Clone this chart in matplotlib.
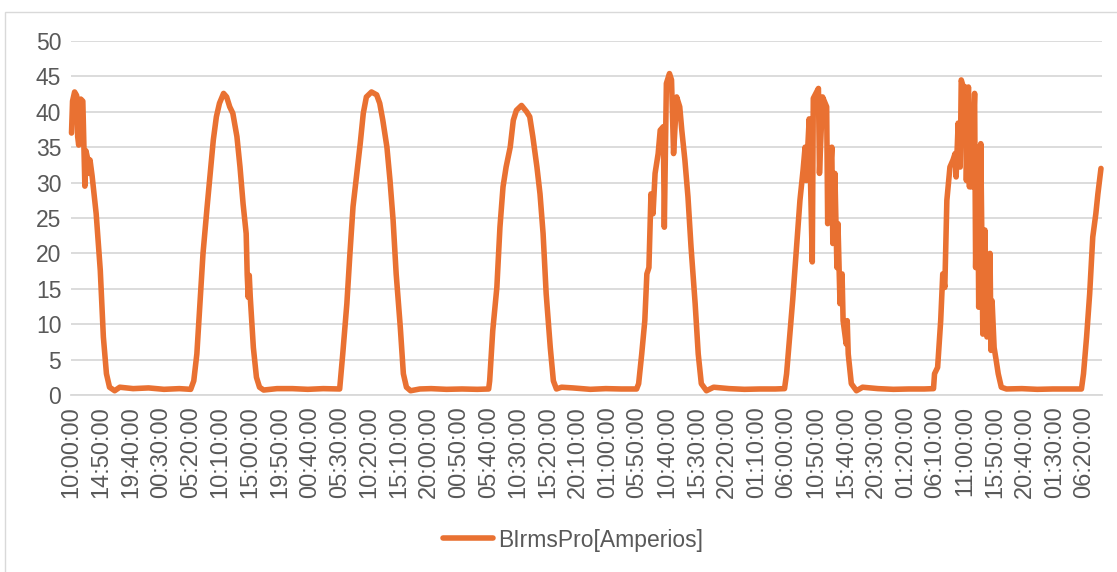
import matplotlib.pyplot as plt
from matplotlib.patches import Rectangle

plt.rcParams['font.family'] = ['Liberation Sans', 'DejaVu Sans']

# 10-minute sample index (0 = 10:00:00 on day 1) and current in A
sample = [
    # day 1
    0, 1, 3, 5, 6, 7, 9, 11, 12, 13, 14, 16, 17, 18, 20, 24, 28, 31, 34, 37, 42, 47,
    60, 75, 90, 105,
    # day 2
    116, 119, 122, 125, 128, 132, 135, 138, 141, 144, 148, 151, 154, 157, 161, 164,
    167, 170, 171, 172, 173, 174, 177, 180, 183, 187,
    200, 215, 230, 245,
    # day 3
    261, 264, 268, 271, 274, 278, 281, 284, 287, 292, 297, 300, 303, 307, 310, 313,
    316, 320, 323, 326, 330, 339,
    350, 365, 380, 395,
    # day 4
    406, 407, 410, 414, 417, 420, 423, 427, 430, 433, 438, 443, 446, 449, 453, 456,
    459, 462, 466, 469, 472, 477, 488,
    505, 520, 535,
    # day 5
    550, 552, 555, 558, 560, 562, 564, 566, 568, 571, 573, 576, 577, 579, 582, 584,
    586, 589, 592, 594, 597, 600, 603, 607, 610, 613, 618, 625,
    640, 655, 670, 685,
    # day 6
    694, 696, 699, 702, 706, 709, 712, 714, 715, 718, 721, 722, 727, 728, 731, 735,
    736, 740, 741, 743, 745, 746, 748, 750, 751, 754, 755, 756, 759, 764, 770,
    785, 800, 815, 830,
    # day 7
    839, 840, 843, 846, 848, 850, 852, 855, 858, 860, 861, 863, 865, 866, 868, 870,
    871, 873, 874, 875, 876, 879, 880, 882, 883, 885, 886, 887, 889, 891, 894, 895,
    896, 898, 900, 902, 905, 910,
    925, 940, 955, 970,
    # day 8
    983, 985, 988, 991, 994, 997, 999, 1002,
]
amps = [
    37, 41.5, 42.8, 42.3, 36.5, 35.3, 41.8, 41.5, 35.3, 29.5, 34.5, 33.2, 31.3, 33.2, 31, 25.6,
    17.6, 8.2, 3, 1.1, 0.6, 1.1,
    0.9, 1.0, 0.8, 0.9,
    0.8, 2, 5.8, 12.9, 20, 26.6, 31.3, 36, 39.3, 41.2, 42.6, 42.1, 40.7, 39.8, 36.5, 32.2,
    27, 22.8, 17, 13.8, 16.9, 13.8, 6.7, 2.5, 1.1, 0.7,
    0.9, 0.9, 0.8, 0.9,
    0.85, 5.8, 12.9, 20, 26.6, 31.7, 35.5, 39.8, 42.1, 42.8, 42.4, 41.2, 38.8, 35, 30.3, 24.7,
    17.1, 9.6, 3, 1.1, 0.6, 0.85,
    0.9, 0.8, 0.85, 0.8,
    0.85, 2, 9.1, 15.2, 23.7, 29.4, 32.2, 35, 38.8, 40.2, 40.9, 40, 39.3, 36.5, 32.2, 28.4,
    22.8, 14.3, 6.7, 2, 0.85, 1.1, 1.0,
    0.8, 0.9, 0.85,
    0.85, 1.6, 5.8, 10.5, 17.1, 18, 28.4, 25.6, 31.3, 34.1, 37.4, 37.9, 23.7, 44, 45.4, 44.5,
    34.1, 42.1, 40.7, 37.4, 33.2, 28, 20.9, 12.9, 5.8, 1.6, 0.6, 1.1,
    0.9, 0.8, 0.85, 0.85,
    0.9, 3, 8.2, 13.5, 21.4, 27.5, 31.7, 35, 30.3, 39, 18.8, 41.9, 43.3, 31.3, 42.1, 40.7,
    24.2, 35, 21.4, 31.3, 18, 24.2, 12.9, 17.1, 10.5, 7.2, 10.5, 5.8, 1.6, 0.6, 1.1,
    0.9, 0.8, 0.85, 0.85,
    0.9, 3, 3.9, 10.5, 17.1, 15.2, 27.5, 32.2, 33.2, 34.1, 30.8, 38.4, 32.2, 44.5, 43.5, 43.5,
    30.3, 43.5, 29.4, 37.9, 29.4, 42.6, 18, 35, 12.4, 35.5, 22.8, 8.6, 23.3, 8.2, 20, 6.3,
    13.3, 6.7, 4.9, 3, 1.1, 0.85,
    0.9, 0.8, 0.85, 0.85,
    0.85, 3, 8.2, 14.3, 22.3, 25.6, 28.4, 32,
]

tick_labels = [
    "10:00:00", "14:50:00", "19:40:00", "00:30:00", "05:20:00", "10:10:00", "15:00:00",
    "19:50:00", "00:40:00", "05:30:00", "10:20:00", "15:10:00", "20:00:00", "00:50:00",
    "05:40:00", "10:30:00", "15:20:00", "20:10:00", "01:00:00", "05:50:00", "10:40:00",
    "15:30:00", "20:20:00", "01:10:00", "06:00:00", "10:50:00", "15:40:00", "20:30:00",
    "01:20:00", "06:10:00", "11:00:00", "15:50:00", "20:40:00", "01:30:00", "06:20:00",
]
tick_step = 29  # one label every 29 samples (4 h 50 min)
series_name = "BIrmsPro[Amperios]"

W, H = 1117, 572
fig = plt.figure(figsize=(W / 100, H / 100), dpi=100)
ax = fig.add_axes([71 / W, 1 - 395 / H, (1102 - 71) / W, (395 - 41) / H])

ax.plot(sample, amps, color='#E97132', lw=4, solid_joinstyle='round',
        solid_capstyle='round', label=series_name, clip_on=False)

ax.set_ylim(0, 50)
ax.set_yticks(range(0, 51, 5))
ax.set_xlim(-0.5, 1003)
ax.set_xticks([i * tick_step for i in range(len(tick_labels))])
ax.set_xticklabels(tick_labels, rotation=90)

ax.grid(axis='y', color='#D9D9D9', lw=1.3)
ax.set_axisbelow(True)
for s in ['top', 'right', 'left']:
    ax.spines[s].set_visible(False)
ax.spines['bottom'].set_color('#D9D9D9')
ax.spines['bottom'].set_linewidth(1.3)
ax.tick_params(length=0, colors='#595959')
ax.tick_params(axis='y', pad=7, labelsize=16.5)
ax.tick_params(axis='x', pad=8, labelsize=17)

fig.legend(loc='center', bbox_to_anchor=(573 / W, 1 - 540 / H), frameon=False,
           fontsize=16.5, handlelength=2.2, handletextpad=0.2, labelcolor='#595959')

# chart area border (only top and left visible in the crop)
fig.patches.append(Rectangle((5 / W, -0.1), 1.2, 1 - 12 / H + 0.1, transform=fig.transFigure,
                             fill=False, ec='#D9D9D9', lw=1))

fig.savefig("out.png", dpi=100)
